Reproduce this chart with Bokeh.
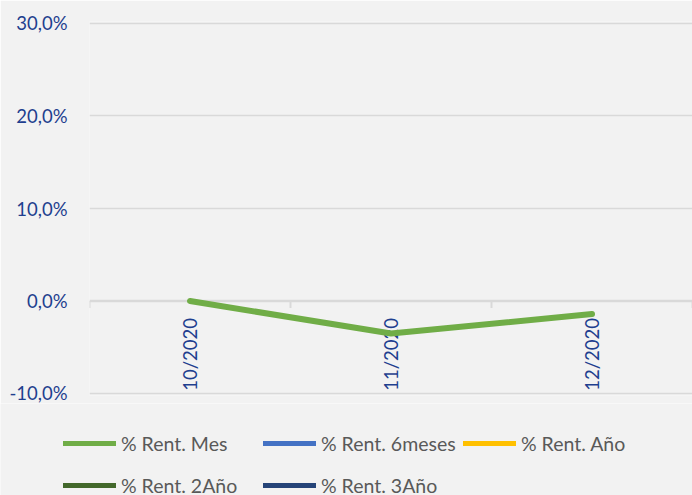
import math
from bokeh.plotting import figure
from bokeh.models import (Range1d, FixedTicker, CustomJSTickFormatter, Legend,
                          LegendItem)
from bokeh.core.properties import value
from bokeh.embed import file_html
from bokeh.resources import INLINE

categories = ["10/2020", "11/2020", "12/2020"]
rent_mes = [0.0, -0.035, -0.014]
# the other series have no values in the reference (only shown in the legend)
rent_6meses = [float("nan")] * 3
rent_anio = [float("nan")] * 3
rent_2anio = [float("nan")] * 3
rent_3anio = [float("nan")] * 3
series_names = ["% Rent. Mes", "% Rent. 6meses", "% Rent. Año", "% Rent. 2Año", "% Rent. 3Año"]
series_colors = ["#70AD47", "#4472C4", "#FFC000", "#43682B", "#264478"]
y_ticks = [-0.1, 0.0, 0.1, 0.2, 0.3]

FONT = "Lato"
LABEL_BLUE = "#1F3F8F"
GRID = "#D9D9D9"
BG = "#F2F2F2"

n = len(categories)
xs = [i + 0.5 for i in range(n)]

p = figure(width=692, height=403, output_backend="svg", toolbar_location=None,
           x_range=Range1d(0, n), y_range=Range1d(-0.102, 0.302),
           x_axis_location=None, min_border_left=89, min_border_right=0,
           min_border_top=21, min_border_bottom=8)
p.background_fill_color = BG
p.border_fill_color = BG
p.outline_line_color = None

p.yaxis.ticker = FixedTicker(ticks=y_ticks)
p.yaxis.formatter = CustomJSTickFormatter(code="""
    var v = Math.round(tick * 1000) / 10;
    if (Math.abs(v) < 1e-9) v = 0;
    return v.toFixed(1).replace('.', ',') + '%';
""")
p.yaxis.axis_line_color = None
p.yaxis.major_tick_line_color = None
p.yaxis.minor_tick_line_color = None
p.yaxis.major_label_standoff = 16
p.yaxis.major_label_text_font = FONT
p.yaxis.major_label_text_font_size = "18.5px"
p.yaxis.major_label_text_color = LABEL_BLUE

p.xgrid.grid_line_color = None
p.ygrid.ticker = FixedTicker(ticks=[t for t in y_ticks if t != 0])
p.ygrid.grid_line_color = GRID
p.ygrid.grid_line_width = 1.5

p.line([0, n], [0, 0], line_color=GRID, line_width=2.5)
bounds = list(range(n + 1))
p.ray(x=bounds, y=[0] * len(bounds), length=7, length_units="screen",
      angle=-math.pi / 2, line_color=GRID, line_width=2)
p.text(x=xs, y=[0] * n, text=categories, angle=math.pi / 2,
       text_align="right", text_baseline="middle", y_offset=17,
       text_font=value(FONT), text_font_size="18.5px", text_color=LABEL_BLUE)

p.line(xs, rent_mes, line_color=series_colors[0], line_width=6,
       line_join="round", line_cap="round")

# legend strip below the chart (separate root, full-width frame)
q = figure(width=692, height=92, output_backend="svg", toolbar_location=None,
           x_range=Range1d(0, n), y_range=Range1d(-1, 1),
           x_axis_location=None, y_axis_location=None,
           min_border_left=0, min_border_right=0, min_border_top=0, min_border_bottom=0)
q.background_fill_color = BG
q.border_fill_color = BG
q.outline_line_color = None
q.xgrid.grid_line_color = None
q.ygrid.grid_line_color = None

all_series = [rent_mes, rent_6meses, rent_anio, rent_2anio, rent_3anio]
# swatch renderers for the legend strip (no points drawn here)
renderers = [q.line(xs, [float("nan")] * n, line_color=c, line_width=5, line_cap="round")
             for c, s in zip(series_colors, all_series)]
legend = Legend(items=[LegendItem(label=nm, renderers=[r]) for nm, r in zip(series_names, renderers)],
                orientation="horizontal", ncols=3, location=(63, -11),
                glyph_width=53, glyph_height=42, label_height=42, label_width=142,
                label_standoff=5, spacing=0, padding=0, margin=0,
                background_fill_alpha=0, border_line_color=None,
                label_text_font=FONT, label_text_font_size="19.5px",
                label_text_color="#595959")
q.add_layout(legend)

open("out.html", "w").write(file_html([p, q], INLINE))
